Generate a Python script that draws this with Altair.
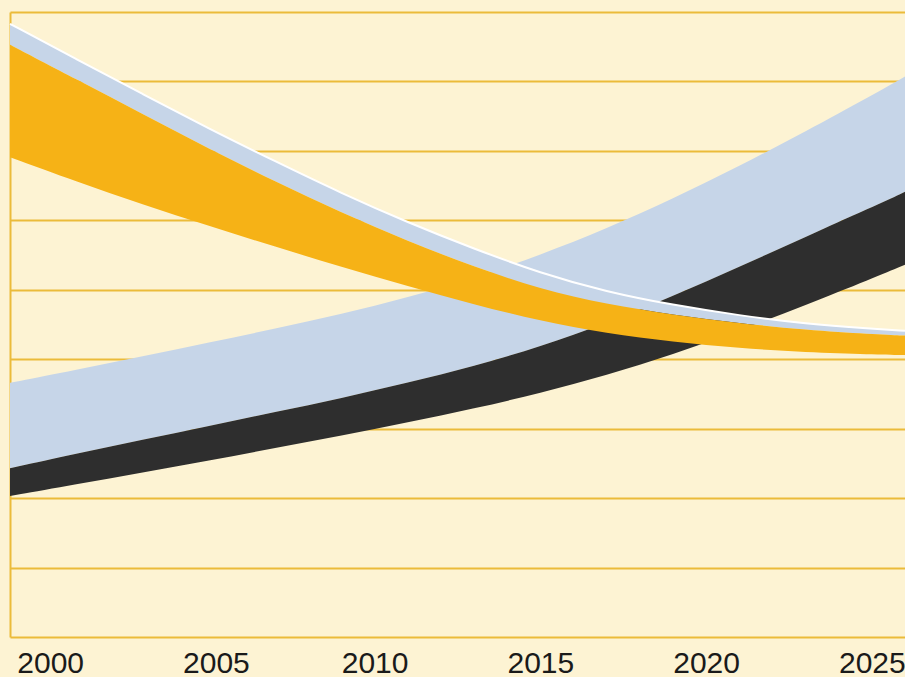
import altair as alt
import pandas as pd

years = [1999, 2001, 2003, 2005, 2007, 2009, 2011, 2013, 2015, 2017, 2019, 2021, 2023, 2025, 2026]

# rising band: top edge, blue/black boundary, bottom edge
rise_top = [3.66, 3.85, 4.04, 4.24, 4.44, 4.65, 4.89, 5.17, 5.50, 5.88, 6.31, 6.78, 7.28, 7.80, 8.07]
rise_mid = [2.43, 2.64, 2.84, 3.04, 3.24, 3.44, 3.66, 3.90, 4.18, 4.52, 4.91, 5.33, 5.76, 6.19, 6.41]
rise_bot = [2.03, 2.20, 2.37, 2.54, 2.72, 2.90, 3.09, 3.29, 3.51, 3.77, 4.07, 4.41, 4.78, 5.16, 5.36]

# falling band: top edge, blue/orange boundary, bottom edge
fall_top = [8.83, 8.32, 7.82, 7.32, 6.85, 6.39, 5.97, 5.59, 5.24, 4.97, 4.78, 4.63, 4.51, 4.44, 4.41]
fall_mid = [8.53, 8.03, 7.53, 7.03, 6.56, 6.11, 5.70, 5.33, 5.01, 4.79, 4.64, 4.52, 4.42, 4.36, 4.34]
fall_bot = [6.91, 6.56, 6.23, 5.92, 5.62, 5.33, 5.05, 4.79, 4.55, 4.37, 4.25, 4.16, 4.10, 4.07, 4.06]

tick_years = [2000, 2005, 2010, 2015, 2020, 2025]
grid_values = [0, 1, 2, 3, 4, 5, 6, 7, 8, 9]

df = pd.DataFrame({
    "year": years,
    "rt": rise_top, "rm": rise_mid, "rb": rise_bot,
    "ft": fall_top, "fm": fall_mid, "fb": fall_bot,
})

CREAM = "#FDF3D3"
GOLD = "#EBBB3A"
BLUE = "#C6D5E8"
BLACK = "#2E2E2E"
ORANGE = "#F6B216"
CURVE = "basis"

xenc = alt.X(
    "year:Q",
    scale=alt.Scale(domain=[1999, 2026], nice=False, zero=False),
    axis=alt.Axis(
        values=tick_years, format="d", title=None, grid=False, domain=False,
        ticks=False, tickSize=0, labelPadding=35, labelBaseline="alphabetic",
        labelFont="Liberation Sans", labelFontSize=30, labelColor="#1a1a1a",
        labelFlush=False, labelOverlap=False,
        labelOffset={"condition": {"test": "datum.value <= 2005", "value": 7}, "value": 0},
    ),
)
yscale = alt.Scale(domain=[0, 9], nice=False, zero=False)
yaxis = alt.Axis(
    values=grid_values, title=None, labels=False, ticks=False, grid=True,
    gridColor=GOLD, gridWidth=2, gridOpacity=1,
    domain=True, domainColor=GOLD, domainWidth=2,
)

base = alt.Chart(df)

rise_blue = base.mark_area(color=BLUE, interpolate=CURVE, opacity=1).encode(
    x=xenc, y=alt.Y("rm:Q", scale=yscale, axis=yaxis), y2="rt:Q"
)
rise_black = base.mark_area(color=BLACK, interpolate=CURVE, opacity=1).encode(
    x="year:Q", y="rb:Q", y2="rm:Q"
)
fall_blue = base.mark_area(color=BLUE, interpolate=CURVE, opacity=1).encode(
    x="year:Q", y="fm:Q", y2="ft:Q"
)
fall_orange = base.mark_area(color=ORANGE, interpolate=CURVE, opacity=1).encode(
    x="year:Q", y="fb:Q", y2="fm:Q"
)
fall_edge = base.mark_line(color="white", strokeWidth=2, interpolate=CURVE).encode(
    x="year:Q", y="ft:Q"
)

chart = alt.layer(rise_blue, rise_black, fall_blue, fall_orange, fall_edge).properties(
    width=895, height=625,
    background=CREAM,
    padding={"left": 10, "top": 12, "right": 0, "bottom": 40},
    autosize=alt.AutoSizeParams(type="none"),
).configure_view(stroke=None, fill=CREAM)

chart.save("out.html", embed_options={"renderer": "svg", "actions": False})
